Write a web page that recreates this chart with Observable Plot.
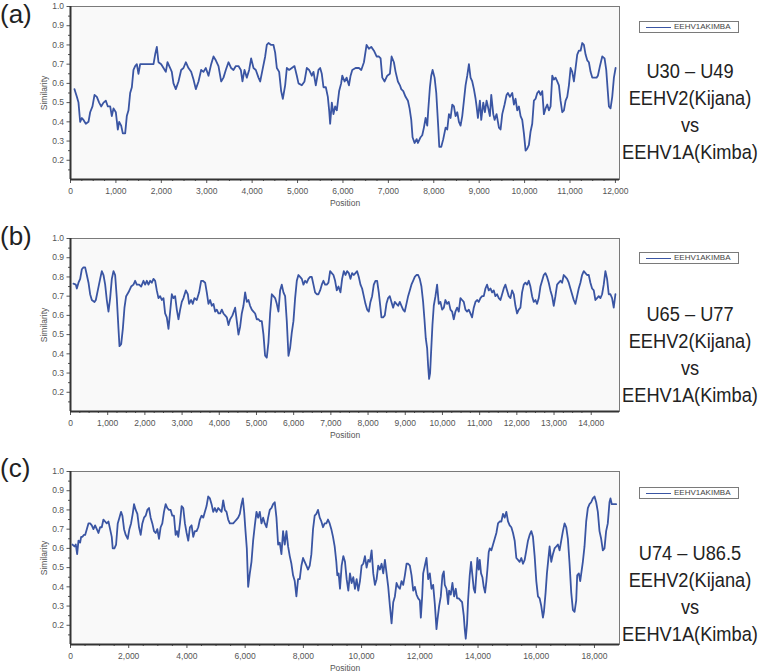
<!DOCTYPE html>
<html><head><meta charset="utf-8">
<script src="https://cdn.jsdelivr.net/npm/d3@7"></script>
<script src="https://cdn.jsdelivr.net/npm/@observablehq/plot@0.6"></script>
<style>
body{margin:0;background:#fff;font-family:"Liberation Sans",Arial,sans-serif;}
#root{position:relative;width:760px;height:672px;overflow:hidden;background:#fff;}
.panel{position:absolute;left:0;}
.tag{position:absolute;left:0;font-size:26px;line-height:30px;color:#222;}
.legend{position:absolute;left:639px;width:98px;height:10px;border:1px solid #7a7a7a;background:#fff;font-size:8px;line-height:10px;color:#444;white-space:nowrap;}
.legend .sw{position:absolute;left:6px;top:5px;width:25px;height:0;border-top:1.6px solid #3a55a3;}
.legend .lt{position:absolute;left:34px;top:0;}
.desc{position:absolute;left:600px;width:180px;text-align:center;font-size:20.5px;line-height:27px;color:#222;}
.desc div{white-space:nowrap;transform:scaleX(0.89);transform-origin:50% 50%;}
</style></head>
<body><div id="root"></div>
<script>
// ---------- data ----------
const yMajor = [0.2,0.3,0.4,0.5,0.6,0.7,0.8,0.9,1.0];
const yMinor = [0.15,0.25,0.35,0.45,0.55,0.65,0.75,0.85,0.95];

const ticksA = [0,1000,2000,3000,4000,5000,6000,7000,8000,9000,10000,11000,12000];
const ticksB = [0,1000,2000,3000,4000,5000,6000,7000,8000,9000,10000,11000,12000,13000,14000];
const ticksC = [0,2000,4000,6000,8000,10000,12000,14000,16000,18000];

const labelsRight = [
  ["U30 – U49","EEHV2(Kijana)","vs","EEHV1A(Kimba)"],
  ["U65 – U77","EEHV2(Kijana)","vs","EEHV1A(Kimba)"],
  ["U74 – U86.5","EEHV2(Kijana)","vs","EEHV1A(Kimba)"]
];
const panelTags = ["(a)","(b)","(c)"];
const seriesName = "EEHV1AKIMBA";

const posA = [88,140,176,213,250,286,338,396,433,484,529,580,631,675,727,778,822,874,910,947,998,1042,1072,1116,1152,1204,1240,1277,1314,1351,1387,1424,1461,1497,1534,1608,1718,1828,1864,1901,1938,1997,2048,2099,2136,2195,2231,2268,2319,2378,2437,2488,2540,2598,2657,2709,2760,2819,2877,2929,2980,3039,3098,3149,3200,3259,3318,3369,3420,3479,3538,3589,3641,3699,3751,3787,3832,3883,3934,3978,4030,4081,4140,4177,4228,4287,4323,4360,4419,4470,4507,4544,4595,4639,4676,4727,4764,4815,4874,4933,4984,5021,5094,5153,5204,5255,5314,5351,5402,5461,5498,5534,5571,5623,5667,5696,5718,5755,5791,5828,5865,5916,5960,
5985,6036,6080,6132,6168,6205,6278,6352,6403,6462,6520,6572,6623,6682,6741,6792,6829,6866,6917,6976,7034,7071,7122,7159,7210,7255,7284,7328,7379,7431,7467,7504,7533,7577,7622,7651,7710,7746,7783,7820,7856,7878,7915,7944,7974,8018,8055,8077,8099,8121,8165,8209,8260,8297,8334,8370,8407,8444,8480,8517,8554,8590,8627,8664,8700,8737,8774,8810,8847,8884,8921,8943,8972,9016,9045,9090,9126,9163,9192,9236,9266,9310,9339,9383,9435,9471,9508,9559,9603,9632,9677,9728,9765,9801,9838,9875,9912,9948,9985,10022,10058,10095,10132,10168,10205,10242,10279,10315,10352,10389,10425,10462,10499,10535,10572,10609,10645,10682,10719,10756,10792,10829,10866,10903,10939,10976,11013,11049,11086,11123,11159,11196,11233,11270,11306,11343,11380,11416,11453,11490,11526,11585,11614,11659,11710,11761,11798,11835,11857,11893,11930,11967,12004];
const simA = [0.57,0.53,0.50,0.40,0.42,0.41,0.39,0.40,0.45,0.48,0.54,0.53,0.50,0.48,0.50,0.51,0.48,0.48,0.43,0.47,0.45,0.36,0.40,0.38,0.34,0.34,0.43,0.46,0.55,0.58,0.67,0.69,0.70,0.65,0.70,0.70,0.70,0.70,0.75,0.79,0.71,0.70,0.68,0.66,0.71,0.68,0.66,0.60,0.57,0.61,0.67,0.68,0.71,0.68,0.66,0.62,0.57,0.61,0.67,0.66,0.68,0.64,0.70,0.74,0.72,0.69,0.61,0.63,0.67,0.71,0.68,0.67,0.69,0.69,0.67,0.61,0.67,0.63,0.67,0.73,0.68,0.67,0.63,0.61,0.67,0.74,0.80,0.81,0.80,0.80,0.76,0.68,0.66,0.56,0.52,0.59,0.68,0.67,0.68,0.69,0.64,0.60,0.59,0.61,0.68,0.67,0.64,0.66,0.59,0.67,0.68,0.65,0.58,0.58,0.53,0.46,0.39,0.50,0.44,0.48,0.46,0.56,0.60,
0.64,0.61,0.63,0.59,0.64,0.67,0.68,0.68,0.67,0.71,0.80,0.78,0.79,0.77,0.74,0.74,0.73,0.63,0.61,0.64,0.65,0.74,0.71,0.66,0.61,0.59,0.57,0.56,0.53,0.51,0.47,0.41,0.32,0.29,0.31,0.29,0.32,0.33,0.37,0.42,0.38,0.46,0.58,0.64,0.67,0.63,0.55,0.46,0.37,0.27,0.27,0.31,0.37,0.36,0.44,0.42,0.49,0.48,0.43,0.45,0.40,0.38,0.43,0.51,0.59,0.64,0.70,0.63,0.61,0.57,0.52,0.48,0.42,0.51,0.41,0.50,0.45,0.51,0.48,0.43,0.54,0.44,0.41,0.44,0.37,0.36,0.44,0.49,0.54,0.55,0.53,0.55,0.49,0.52,0.46,0.48,0.43,0.41,0.34,0.25,0.26,0.28,0.35,0.39,0.51,0.52,0.55,0.56,0.54,0.56,0.44,0.47,0.49,0.46,0.48,0.64,0.62,0.63,0.61,0.59,0.51,0.45,0.46,0.51,0.53,0.59,0.68,0.66,0.61,0.68,0.75,0.77,0.77,0.81,0.80,0.75,0.72,0.71,0.66,0.63,0.63,0.63,0.64,0.69,0.74,0.73,0.67,0.55,0.48,0.47,0.53,0.63,0.68];

const posB = [80,143,170,215,260,305,349,394,439,484,528,573,645,681,734,797,842,887,932,976,1021,1066,1111,1156,1200,1245,1290,1317,1362,1407,1451,1496,1559,1630,1693,1738,1783,1846,1899,1962,2007,2052,2096,2141,2186,2231,2276,2320,2365,2410,2455,2500,2544,2589,2634,2679,2724,2768,2813,2858,2903,2948,2992,3037,3100,3154,3189,3243,3288,3333,3395,3458,3512,3557,3620,3664,3709,3754,3799,3844,3888,3933,3978,4023,4068,4112,4157,4202,4247,4292,4354,4426,4471,4516,4560,4605,4650,4695,4740,4784,4829,4874,4919,4964,5008,5053,5098,5143,5188,5232,5277,5322,5367,5412,5456,5501,5546,5591,5636,5680,5725,5770,5815,5860,5904,5949,5994,6039,6084,6128,6173,6218,6263,6308,6352,6397,6442,6487,6532,6576,6621,6666,6711,6756,6800,6845,6890,6935,6980,7024,7069,7114,7159,7204,
7258,7303,7348,7392,7437,7482,7527,7572,7616,7661,7706,7751,7796,7840,7885,7930,7975,8020,8064,8109,8154,8199,8244,8288,8333,8360,8405,8450,8494,8539,8584,8629,8674,8718,8763,8808,8853,8898,8942,8987,9032,9077,9122,9166,9211,9256,9301,9346,9390,9435,9480,9516,9552,9588,9614,9641,9668,9695,9731,9767,9812,9856,9901,9946,9991,10036,10080,10125,10170,10215,10260,10304,10349,10394,10439,10484,10528,10573,10618,10663,10708,10752,10797,10842,10887,10932,10976,11021,11066,11111,11156,11200,11245,11290,11335,11380,11424,11469,11514,11559,11604,11648,11693,11738,11783,11828,11872,11917,11962,12007,12052,12096,12141,12186,12231,12276,12320,12365,12410,12455,12500,12544,12589,12634,12679,12724,12768,12813,12858,12903,12948,12992,13037,13082,13127,13172,13216,13261,13306,13351,13396,13440,13485,13530,13575,13620,13664,13709,13754,13799,13844,13888,13933,13978,14023,14068,14112,14157,14202,14247,14292,14336,14381,14426,14471,14516,14560,14605,14650];
const simB = [0.765,0.76,0.74,0.77,0.79,0.84,0.85,0.85,0.81,0.77,0.71,0.68,0.67,0.68,0.73,0.79,0.83,0.81,0.76,0.68,0.62,0.69,0.79,0.83,0.81,0.69,0.53,0.44,0.45,0.53,0.64,0.70,0.72,0.75,0.76,0.78,0.76,0.76,0.75,0.78,0.76,0.78,0.76,0.78,0.77,0.79,0.78,0.73,0.69,0.70,0.68,0.69,0.61,0.59,0.53,0.62,0.71,0.69,0.70,0.63,0.58,0.63,0.67,0.69,0.73,0.71,0.66,0.68,0.66,0.69,0.68,0.72,0.78,0.78,0.77,0.72,0.66,0.68,0.65,0.66,0.62,0.63,0.61,0.61,0.63,0.61,0.60,0.59,0.55,0.58,0.60,0.64,0.57,0.50,0.54,0.61,0.65,0.72,0.67,0.68,0.65,0.63,0.62,0.61,0.58,0.58,0.57,0.57,0.50,0.39,0.38,0.46,0.61,0.71,0.70,0.69,0.66,0.62,0.73,0.76,0.72,0.70,0.57,0.39,0.43,0.51,0.57,0.69,0.78,0.81,0.80,0.79,0.76,0.78,0.77,0.79,0.80,0.80,0.76,0.72,0.71,0.71,0.73,0.76,0.78,0.76,0.76,0.77,0.83,0.82,0.81,0.78,0.73,0.75,
0.72,0.79,0.83,0.81,0.83,0.82,0.79,0.82,0.81,0.82,0.83,0.80,0.76,0.74,0.70,0.66,0.63,0.62,0.67,0.70,0.76,0.78,0.78,0.72,0.64,0.59,0.59,0.60,0.66,0.69,0.70,0.67,0.64,0.67,0.66,0.65,0.67,0.65,0.63,0.62,0.66,0.70,0.73,0.76,0.78,0.80,0.81,0.81,0.79,0.75,0.67,0.58,0.48,0.43,0.34,0.27,0.30,0.41,0.55,0.65,0.70,0.76,0.66,0.67,0.63,0.64,0.68,0.66,0.67,0.63,0.62,0.58,0.62,0.64,0.62,0.69,0.68,0.67,0.63,0.62,0.63,0.61,0.59,0.64,0.67,0.68,0.67,0.69,0.70,0.70,0.74,0.76,0.73,0.74,0.72,0.73,0.70,0.71,0.69,0.68,0.71,0.74,0.76,0.73,0.70,0.69,0.73,0.71,0.65,0.61,0.63,0.64,0.72,0.76,0.77,0.76,0.78,0.75,0.70,0.67,0.68,0.66,0.69,0.75,0.78,0.81,0.82,0.80,0.77,0.73,0.70,0.65,0.70,0.76,0.77,0.78,0.77,0.81,0.80,0.79,0.77,0.74,0.71,0.68,0.66,0.70,0.74,0.77,0.81,0.83,0.82,0.81,0.81,0.77,0.74,0.73,0.68,0.69,0.70,0.69,0.71,0.76,0.83,0.79,0.71,0.71,0.69,0.64,0.71];

const posC = [68,137,182,228,274,331,365,411,457,503,560,617,674,731,788,845,903,960,1017,1074,1131,1188,1245,1303,1360,1417,1451,1508,1566,1623,1680,1737,1783,1840,1897,1966,2023,2080,2137,2183,2240,2297,2354,2411,2468,2526,2583,2640,2697,2754,2811,2869,2926,2983,3040,3097,3154,3211,3269,3326,3383,3440,3497,3554,3611,3657,3703,3760,3817,3874,3931,3989,4046,4103,4160,4217,4274,4331,4389,4446,4503,4560,4617,4674,4731,4789,4846,4903,4960,5017,5074,5131,5189,5246,5303,5360,5417,5474,5532,5589,5646,5703,5760,5817,5874,5920,5966,6012,6057,6103,6160,6217,6274,6332,6389,6446,6503,6560,6618,6675,6732,6789,6846,6903,6960,7017,7075,7132,7189,7246,7303,7360,7418,7475,7532,7589,7646,7703,7760,7818,7875,7932,7989,8046,8103,8160,8218,8275,8332,8389,8446,8503,8561,8618,8675,8732,8789,8846,8903,8960,9018,9075,9132,9166,9212,
9258,9315,9372,9430,9487,9544,9601,9658,9715,9772,9830,9887,9944,10001,10058,10115,10172,10230,10287,10344,10401,10458,10515,10572,10630,10687,10744,10801,10858,10915,10973,11030,11087,11144,11201,11258,11315,11373,11430,11487,11544,11601,11658,11716,11773,11830,11887,11944,12001,12035,12081,12116,12173,12230,12287,12344,12401,12458,12516,12573,12607,12664,12721,12778,12824,12858,12916,12973,13007,13064,13121,13178,13236,13281,13338,13396,13453,13510,13544,13578,13624,13658,13715,13761,13807,13853,13898,13944,13979,14024,14059,14104,14150,14196,14242,14287,14322,14367,14402,14459,14516,14573,14630,14687,14744,14801,14859,14916,14973,15030,15087,15144,15202,15259,15316,15373,15430,15487,15545,15602,15659,15716,15773,15830,15887,15945,16002,16059,16116,16173,16230,16264,16321,16367,16413,16459,16516,16573,16630,16687,16744,16801,16859,16916,16973,17030,17087,17145,17202,17259,17316,17373,17407,17464,17510,17556,17601,17658,17716,17773,17830,17887,17944,18002,18059,18116,18173,18230,18287,18344,18401,18458,18516,18550,18596,18653,18744];
const simC = [0.62,0.61,0.62,0.57,0.64,0.63,0.66,0.66,0.67,0.67,0.70,0.73,0.73,0.72,0.70,0.72,0.70,0.68,0.71,0.71,0.75,0.74,0.73,0.74,0.70,0.66,0.60,0.60,0.62,0.73,0.76,0.79,0.77,0.70,0.67,0.65,0.70,0.73,0.78,0.83,0.80,0.78,0.71,0.67,0.73,0.76,0.77,0.80,0.81,0.76,0.73,0.69,0.68,0.70,0.65,0.71,0.73,0.79,0.83,0.81,0.80,0.80,0.77,0.77,0.67,0.69,0.66,0.73,0.82,0.81,0.73,0.68,0.64,0.71,0.72,0.66,0.69,0.69,0.71,0.75,0.77,0.76,0.79,0.82,0.87,0.86,0.83,0.79,0.81,0.79,0.81,0.80,0.79,0.85,0.80,0.79,0.75,0.73,0.73,0.73,0.74,0.75,0.76,0.78,0.83,0.86,0.79,0.69,0.60,0.40,0.47,0.53,0.64,0.72,0.79,0.76,0.79,0.73,0.76,0.73,0.71,0.76,0.80,0.81,0.83,0.84,0.76,0.62,0.63,0.57,0.69,0.62,0.69,0.61,0.56,0.52,0.46,0.43,0.35,0.44,0.44,0.51,0.55,0.53,0.51,0.49,0.51,0.57,0.70,0.77,0.78,0.80,0.76,0.74,0.71,0.73,0.73,0.75,0.73,0.70,0.66,0.61,0.53,0.46,0.47,
0.39,0.51,0.56,0.53,0.44,0.38,0.47,0.42,0.45,0.39,0.44,0.38,0.43,0.51,0.52,0.56,0.50,0.54,0.53,0.59,0.47,0.41,0.44,0.51,0.49,0.52,0.47,0.54,0.47,0.40,0.30,0.21,0.32,0.35,0.42,0.40,0.39,0.43,0.41,0.46,0.52,0.52,0.51,0.46,0.38,0.40,0.36,0.34,0.33,0.24,0.35,0.47,0.51,0.55,0.44,0.47,0.39,0.41,0.31,0.18,0.23,0.30,0.35,0.46,0.48,0.41,0.39,0.31,0.38,0.36,0.42,0.35,0.39,0.34,0.34,0.33,0.32,0.25,0.18,0.13,0.21,0.33,0.46,0.53,0.46,0.39,0.37,0.47,0.55,0.49,0.54,0.47,0.45,0.40,0.37,0.43,0.49,0.58,0.60,0.59,0.62,0.65,0.68,0.73,0.74,0.74,0.78,0.76,0.79,0.74,0.72,0.71,0.68,0.64,0.55,0.54,0.53,0.55,0.52,0.54,0.59,0.64,0.67,0.69,0.66,0.56,0.43,0.35,0.34,0.30,0.24,0.27,0.37,0.47,0.54,0.61,0.53,0.57,0.60,0.61,0.62,0.59,0.64,0.69,0.73,0.71,0.65,0.52,0.37,0.28,0.27,0.33,0.46,0.47,0.43,0.48,0.53,0.61,0.74,0.81,0.83,0.84,0.86,0.87,0.84,0.79,0.69,0.65,0.59,0.60,0.69,0.73,0.84,0.86,0.83,0.83,0.83];

// ---------- drawing ----------
const root = document.getElementById("root");
const fmtComma = d3.format(",");
const fmtY = d3.format(".1f");
const noText = () => "";

function minorTicks(major, step) {
  const out = [];
  for (let i = 0; i < major.length - 1; i++) {
    for (let v = major[i] + step; v < major[i + 1] - 1e-6; v += step) out.push(v);
  }
  return out;
}

const panels = [
  {pos: posA, sim: simA, xMax: 12090, ticks: ticksA, minorStep: 250, top: 0},
  {pos: posB, sim: simB, xMax: 14760, ticks: ticksB, minorStep: 250, top: 232},
  {pos: posC, sim: simC, xMax: 18860, ticks: ticksC, minorStep: 500, top: 465}
];

panels.forEach((p, k) => {
  if (p.pos.length !== p.sim.length) throw new Error("length mismatch panel " + k + ": " + p.pos.length + " vs " + p.sim.length);
  const data = p.pos.map((x, i) => ({position: x, similarity: p.sim[i]}));
  const chart = Plot.plot({
    width: 625, height: 209,
    marginLeft: 70, marginRight: 6, marginTop: 6, marginBottom: 30,
    style: {fontFamily: "'Liberation Sans', Arial, sans-serif", fontSize: "8.5px", color: "#555", background: "transparent", overflow: "visible"},
    x: {domain: [0, p.xMax]},
    y: {domain: [0.1, 1.0]},
    marks: [
      Plot.frame({fill: "#f9f9f9", stroke: "#7a7a7a", strokeWidth: 1}),
      Plot.axisY(yMinor, {tickSize: 2, stroke: "#555", tickFormat: noText, label: null}),
      Plot.axisY(yMajor, {tickSize: 3.5, tickPadding: 3, stroke: "#555", tickFormat: fmtY, label: "Similarity", labelAnchor: "center", labelArrow: "none", labelOffset: 30}),
      Plot.axisX(minorTicks(p.ticks, p.minorStep), {tickSize: 2, stroke: "#555", tickFormat: noText, label: null}),
      Plot.axisX(p.ticks, {tickSize: 4, tickPadding: 4, stroke: "#555", tickFormat: fmtComma, label: "Position", labelAnchor: "center", labelArrow: "none", labelOffset: 26}),
      Plot.ruleX([0], {stroke: "#333", strokeWidth: 2}),
      Plot.ruleY([0.1], {stroke: "#333", strokeWidth: 2}),
      Plot.line(data, {x: "position", y: "similarity", stroke: "#3a55a3", strokeWidth: 1.8})
    ]
  });
  chart.classList.add("panel");
  chart.style.top = p.top + "px";
  root.appendChild(chart);

  const tag = document.createElement("div");
  tag.className = "tag";
  tag.textContent = panelTags[k];
  tag.style.top = [-1, 221, 453][k] + "px";
  root.appendChild(tag);

  const leg = document.createElement("div");
  leg.className = "legend";
  leg.style.top = [21, 252, 487][k] + "px";
  leg.innerHTML = '<span class="sw"></span><span class="lt"></span>';
  leg.querySelector(".lt").textContent = seriesName;
  root.appendChild(leg);

  const desc = document.createElement("div");
  desc.className = "desc";
  desc.style.top = [57, 300, 539][k] + "px";
  labelsRight[k].forEach(t => {
    const line = document.createElement("div");
    line.textContent = t;
    desc.appendChild(line);
  });
  root.appendChild(desc);
});
</script>
</body></html>
